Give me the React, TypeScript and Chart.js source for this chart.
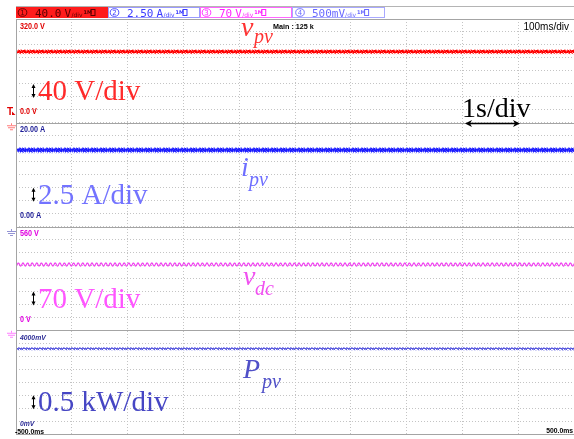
import React, { useEffect, useRef } from 'react';
import { Chart, registerables } from 'chart.js';

Chart.register(...registerables);

// ---- data ----
const timeMs = [-500, -400, -300, -200, -100, 0, 100, 200, 300, 400, 500];
const vpvVolts = [219, 219, 219, 219, 219, 219, 219, 219, 219, 219, 219];
const ipvAmps = [14.7, 14.7, 14.7, 14.7, 14.7, 14.7, 14.7, 14.7, 14.7, 14.7, 14.7];
const vdcVolts = [354, 354, 354, 354, 354, 355, 356, 356, 356, 356, 356];
const ppvMilliVolts = [3290, 3290, 3290, 3290, 3290, 3290, 3290, 3290, 3290, 3290, 3280];

const channelFullScale = [320, 20, 560, 4000];
const topLabels = ['320.0 V', '20.00 A', '560 V', '4000mV'];
const bottomLabels = ['0.0 V', '0.00 A', '0 V', '0mV'];
const timeLabels = ['-500.0ms', '500.0ms'];
const headerNumbers = ['1', '2', '3', '4'];
const headerValues = ['40.0', '2.50', '70', '500mV'];
const headerUnits = ['V', 'A', 'V', ''];
const scaleLabels = ['40 V/div', '2.5 A/div', '70 V/div', '0.5 kW/div'];
const signalMain = ['v', 'i', 'v', 'P'];
const signalSub = ['pv', 'pv', 'dc', 'pv'];
const infoMain = 'Main : 125 k';
const infoTimebase = '100ms/div';
const annotTime = '1s/div';

const axisIds = ['yV', 'yI', 'yVdc', 'yP'];

function makeTile(w: number, h: number, draw: (c: CanvasRenderingContext2D) => void) {
  const cv = document.createElement('canvas');
  cv.width = w;
  cv.height = h;
  const c = cv.getContext('2d') as CanvasRenderingContext2D;
  draw(c);
  return cv;
}

function bandTile(rows: string[][]) {
  return makeTile(rows[0].length, rows.length, (c) => {
    rows.forEach((r, y) =>
      r.forEach((col, x) => {
        if (col) {
          c.fillStyle = col;
          c.fillRect(x, y, 1, 1);
        }
      })
    );
  });
}

function txt(ctx: CanvasRenderingContext2D, s: string, x: number, y: number, font: string, color: string, align: CanvasTextAlign = 'left', sx = 1) {
  ctx.save();
  ctx.font = font;
  ctx.fillStyle = color;
  ctx.textAlign = align;
  ctx.textBaseline = 'alphabetic';
  ctx.translate(x, y);
  ctx.scale(sx, 1);
  ctx.fillText(s, 0, 0);
  ctx.restore();
}

function vArrow(ctx: CanvasRenderingContext2D, x: number, y1: number, y2: number) {
  ctx.save();
  ctx.strokeStyle = '#000';
  ctx.fillStyle = '#000';
  ctx.lineWidth = 1;
  ctx.beginPath();
  ctx.moveTo(x, y1 + 3);
  ctx.lineTo(x, y2 - 3);
  ctx.stroke();
  ctx.beginPath();
  ctx.moveTo(x, y1);
  ctx.lineTo(x - 2, y1 + 4);
  ctx.lineTo(x + 2, y1 + 4);
  ctx.closePath();
  ctx.fill();
  ctx.beginPath();
  ctx.moveTo(x, y2);
  ctx.lineTo(x - 2, y2 - 4);
  ctx.lineTo(x + 2, y2 - 4);
  ctx.closePath();
  ctx.fill();
  ctx.restore();
}

function hArrow(ctx: CanvasRenderingContext2D, x1: number, x2: number, y: number) {
  ctx.save();
  ctx.strokeStyle = '#000';
  ctx.fillStyle = '#000';
  ctx.lineWidth = 1.6;
  ctx.beginPath();
  ctx.moveTo(x1 + 4, y);
  ctx.lineTo(x2 - 4, y);
  ctx.stroke();
  ctx.beginPath();
  ctx.moveTo(x1, y);
  ctx.lineTo(x1 + 7, y - 3.5);
  ctx.lineTo(x1 + 5, y);
  ctx.lineTo(x1 + 7, y + 3.5);
  ctx.closePath();
  ctx.fill();
  ctx.beginPath();
  ctx.moveTo(x2, y);
  ctx.lineTo(x2 - 7, y - 3.5);
  ctx.lineTo(x2 - 5, y);
  ctx.lineTo(x2 - 7, y + 3.5);
  ctx.closePath();
  ctx.fill();
  ctx.restore();
}

function ground(ctx: CanvasRenderingContext2D, y0: number, color: string) {
  ctx.save();
  ctx.strokeStyle = color;
  ctx.lineWidth = 1;
  ctx.beginPath();
  ctx.moveTo(11.5, y0);
  ctx.lineTo(11.5, y0 + 2);
  ctx.moveTo(7, y0 + 2.5);
  ctx.lineTo(16, y0 + 2.5);
  ctx.moveTo(8, y0 + 4.5);
  ctx.lineTo(15, y0 + 4.5);
  ctx.moveTo(10, y0 + 6.5);
  ctx.lineTo(13, y0 + 6.5);
  ctx.stroke();
  ctx.restore();
}

export default function App() {
  const ref = useRef<HTMLCanvasElement | null>(null);

  useEffect(() => {
    const canvas = ref.current;
    if (!canvas) return;
    const ctx = canvas.getContext('2d') as CanvasRenderingContext2D;

    const P = '#ff8a8a', Q = '#ffb4b4', R = '#ff0000', S = '#ff3a3a';
    const vpvTile = bandTile([
      [P, '', Q, P, '', '', P, Q, ''],
      [S, R, P, R, S, R, R, S, P],
      [R, R, R, S, R, R, R, R, S],
      [R, S, R, R, R, P, R, R, R],
      ['', P, S, '', Q, S, '', P, Q],
    ]);
    const B = '#1a1aff', C = '#3c3cff', D = '#8080ff', E = '#b0b0ff';
    const ipvTile = bandTile([
      ['', D, E, '', D, '', E, D, ''],
      [D, C, B, D, C, B, D, C, E],
      [B, B, C, B, B, B, C, B, B],
      [B, C, B, B, C, B, B, B, C],
      [C, D, B, C, B, D, C, B, D],
      [E, '', D, '', E, D, '', E, ''],
    ]);
    const F = '#5858dc', G = '#9a9aee', H = '#7070e4';
    const ppvTile = bandTile([
      [G, '', H, G, '', G, '', H],
      [F, F, H, F, F, F, H, F],
      ['', G, F, '', H, G, F, ''],
    ]);
    const vdcTile = makeTile(23, 7, (c) => {
      c.strokeStyle = '#f040f0';
      c.lineWidth = 1.2;
      c.beginPath();
      for (let i = -2; i <= 25 * 4; i++) {
        const px = i / 4;
        const py = 3.5 - 1.5 * Math.cos((2 * Math.PI * px) / 4.6);
        if (i === -2) c.moveTo(px, py);
        else c.lineTo(px, py);
      }
      c.stroke();
    });

    const tiles = [vpvTile, ipvTile, vdcTile, ppvTile];
    const patterns = tiles.map((t) => ctx.createPattern(t, 'repeat') as CanvasPattern);
    const series = [vpvVolts, ipvAmps, vdcVolts, ppvMilliVolts];

    const datasets = series.map((vals, i) => ({
      label: signalMain[i] + signalSub[i],
      data: timeMs.map((t, k) => ({ x: t, y: vals[k] })),
      yAxisID: axisIds[i],
      xAxisID: 'x',
      borderColor: patterns[i],
      backgroundColor: patterns[i],
      borderWidth: tiles[i].height,
      pointRadius: 0,
      tension: 0,
      fill: false,
    }));

    const gridFor = () => ({
      color: '#c4c4c4',
      lineWidth: 1,
      drawTicks: false,
    });

    const yScale = (i: number) => ({
      type: 'linear' as const,
      position: 'left' as const,
      stack: 'scope',
      stackWeight: 1,
      min: 0,
      max: channelFullScale[i],
      ticks: { display: false, stepSize: channelFullScale[i] / 8 },
      grid: gridFor(),
      border: { display: false, dash: [1, 2] },
    });

    const decorations = {
      id: 'scopeDecor',
      beforeDatasetsDraw(chart: any) {
        chart.data.datasets.forEach((ds: any, i: number) => {
          const sc = chart.scales[axisIds[i]];
          const vals = series[i];
          const avg = vals.reduce((a, b) => a + b, 0) / vals.length;
          const y = sc.getPixelForValue(avg);
          const off = Math.round(y - tiles[i].height / 2);
          patterns[i].setTransform(new DOMMatrix([1, 0, 0, 1, 0, off]));
        });
      },
      afterDraw(chart: any) {
        const c: CanvasRenderingContext2D = chart.ctx;
        const area = chart.chartArea;
        const xs = chart.scales.x;
        const panels = axisIds.map((id) => chart.scales[id]);

        // frame: left border and panel separators
        c.save();
        c.strokeStyle = '#a4a4a4';
        c.lineWidth = 1;
        c.beginPath();
        const lx = Math.round(area.left) + 0.5;
        c.moveTo(lx, area.top);
        c.lineTo(lx, area.bottom + 1);
        panels.forEach((p: any) => {
          const yt = Math.round(p.getPixelForValue(p.max)) + 0.5;
          c.moveTo(lx, yt);
          c.lineTo(area.right, yt);
        });
        const yb = Math.round(area.bottom) + 0.5;
        c.moveTo(lx, yb);
        c.lineTo(area.right, yb);
        c.stroke();
        c.restore();

        // header
        c.save();
        c.strokeStyle = '#b4b4b4';
        c.beginPath();
        c.moveTo(16, 6.5);
        c.lineTo(574, 6.5);
        c.stroke();
        const boxX = [16, 108, 200, 292];
        const boxW = [92, 92, 92, 93];
        const boxBorder = ['#ff1c1c', '#9a9aff', '#ff66ff', '#a8a8ff'];
        const boxText = ['#5a0000', '#3a3aff', '#ff22ff', '#6a6aff'];
        headerNumbers.forEach((n, i) => {
          const bx = boxX[i];
          if (i === 0) {
            c.fillStyle = '#ff1c1c';
            c.fillRect(bx, 7, boxW[i], 11);
          } else {
            c.strokeStyle = boxBorder[i];
            c.lineWidth = 1;
            c.strokeRect(bx + 0.5, 7.5, boxW[i] - 1, 10);
          }
          const col = boxText[i];
          const cx = bx + (i === 3 ? 8 : 6.5);
          c.strokeStyle = col;
          c.lineWidth = 0.9;
          c.beginPath();
          c.ellipse(cx, 12.5, 4.3, 3.8, 0, 0, Math.PI * 2);
          c.stroke();
          txt(c, n, cx, 15.3, '7px "DejaVu Sans"', col, 'center');
          const vx = bx + (i === 3 ? 20 : 19);
          c.font = '11px "DejaVu Sans Mono"';
          const vw = c.measureText(headerValues[i]).width;
          txt(c, headerValues[i], vx, 16.5, '11px "DejaVu Sans Mono"', col);
          let ux = vx + vw + (headerUnits[i] ? 3 : 0);
          if (headerUnits[i]) {
            txt(c, headerUnits[i], ux, 16.5, '11px "DejaVu Sans Mono"', col);
            ux += 7;
          }
          txt(c, '/div', ux, 17, '6px "DejaVu Sans"', col);
          const ix = ux + 12;
          txt(c, '1M', ix, 13.5, 'bold 5px "DejaVu Sans"', col);
          c.strokeStyle = col;
          c.lineWidth = 1;
          c.strokeRect(ix + 7.5, 9.5, 4, 6);
        });
        c.restore();

        // info line
        txt(c, infoMain, 273, 29, 'bold 8px "Liberation Sans"', '#000', 'left', 0.9);
        txt(c, infoTimebase, 569, 30, '10px "Liberation Sans"', '#000', 'right');

        // per-channel labels
        const smallCol = ['#e00000', '#1c1c96', '#e000e0', '#2c2c96'];
        const bigCol = ['#ff2a2a', '#7373ff', '#ff55ff', '#4646c4'];
        const nameCol = ['#ff3333', '#6e6eff', '#f050f0', '#5050c8'];
        const nameOff = [
          [241, 17, 254, 24],
          [241, 53.5, 249, 63.5],
          [243, 58, 255, 68],
          [243, 47.5, 262, 57.5],
        ];
        panels.forEach((p: any, i: number) => {
          const top = p.getPixelForValue(p.max);
          const bot = p.getPixelForValue(p.min);
          const sfont = i === 3 ? 'italic bold 8px "Liberation Sans"' : 'bold 8.5px "Liberation Sans"';
          txt(c, topLabels[i], 20, top + 9.5, sfont, smallCol[i], 'left', 0.85);
          txt(c, bottomLabels[i], 20, bot - 8.5, sfont, smallCol[i], 'left', 0.85);
          // scale label
          const base = top + 81;
          txt(c, scaleLabels[i], 38, base, '29px "Liberation Serif"', bigCol[i]);
          vArrow(c, 33.5, base - 16, base - 2);
          // signal name
          const o = nameOff[i];
          txt(c, signalMain[i], o[0], top + o[1], 'italic 28px "Liberation Serif"', nameCol[i]);
          txt(c, signalSub[i], o[2], top + o[3], 'italic 20px "Liberation Serif"', nameCol[i]);
        });

        // time labels
        txt(c, timeLabels[0], xs.getPixelForValue(-500) - 1, area.bottom, 'bold 8px "Liberation Sans"', '#000', 'left', 0.85);
        txt(c, timeLabels[1], xs.getPixelForValue(500) - 1, area.bottom - 1, 'bold 8px "Liberation Sans"', '#000', 'right', 0.85);

        // 1s/div annotation
        txt(c, annotTime, 462, 117, '28px "Liberation Serif"', '#000');
        hArrow(c, 465, 520, 123.5);

        // trigger marker and ground symbols
        txt(c, 'T', 7, 115, 'bold 10px "Liberation Sans"', '#e00000');
        c.save();
        c.fillStyle = '#e00000';
        c.beginPath();
        c.moveTo(12, 115);
        c.lineTo(15.5, 115);
        c.lineTo(12, 111.5);
        c.closePath();
        c.fill();
        c.restore();
        const zeroY = panels.map((p: any) => p.getPixelForValue(0));
        ground(c, zeroY[0] + 0.5, '#ff7a7a');
        ground(c, zeroY[1] + 2.5, '#9494d4');
        ground(c, zeroY[2] + 0.5, '#ff80ff');
      },
    };

    const chart = new Chart(canvas, {
      type: 'line',
      data: { datasets: datasets as any },
      options: {
        responsive: false,
        maintainAspectRatio: false,
        animation: false,
        events: [],
        layout: { padding: { left: 16, top: 19, right: 0, bottom: 5 } },
        plugins: { legend: { display: false }, tooltip: { enabled: false } },
        scales: {
          x: {
            type: 'linear',
            min: -500,
            max: 500,
            ticks: { display: false, stepSize: 100 },
            grid: gridFor(),
            border: { display: false, dash: [1, 2] },
          },
          yP: yScale(3),
          yVdc: yScale(2),
          yI: yScale(1),
          yV: yScale(0),
        } as any,
      },
      plugins: [decorations],
    });

    return () => chart.destroy();
  }, []);

  return (
    <div style={{ position: 'fixed', left: 0, top: 0, width: 574, height: 439, background: '#fff' }}>
      <canvas ref={ref} width={574} height={439} style={{ display: 'block' }} />
    </div>
  );
}
